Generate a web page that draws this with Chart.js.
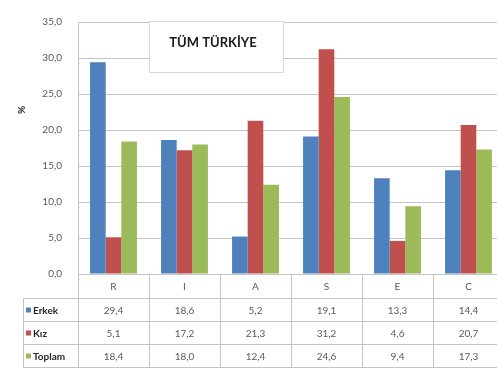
<!DOCTYPE html>
<html>
<head>
<meta charset="utf-8">
<script src="https://cdn.jsdelivr.net/npm/chart.js@4/dist/chart.umd.min.js"></script>
<style>
  html, body { margin: 0; padding: 0; background: #fff; overflow: hidden; }
  #wrap { width: 505px; height: 369px; }
</style>
</head>
<body>
<div id="wrap"><canvas id="c" width="505" height="369"></canvas></div>
<script>
// Categories and series (percentages)
const categories = ['R', 'I', 'A', 'S', 'E', 'C'];
const seriesNames = ['Erkek', 'Kız', 'Toplam'];
const erkek  = [29.4, 18.6, 5.2, 19.1, 13.3, 14.4];
const kiz    = [5.1, 17.2, 21.3, 31.2, 4.6, 20.7];
const toplam = [18.4, 18.0, 12.4, 24.6, 9.4, 17.3];
const yTicks = [0, 5, 10, 15, 20, 25, 30, 35];
const chartTitle = 'TÜM TÜRKİYE';
const yLabel = '%';

const colors = ['#4F81BD', '#C0504D', '#9BBB59'];
const seriesValues = [erkek, kiz, toplam];
const gridColor = '#c4c4c4';
const fmt = v => v.toFixed(1).replace('.', ',');

// Excel-style data table drawn under the plot area
const dataTable = {
  id: 'dataTable',
  afterDraw(chart) {
    const ctx = chart.ctx;
    const area = chart.chartArea;
    const x = chart.scales.x;
    const n = categories.length;
    const colW = (area.right - area.left) / n;
    const rowTops = [area.bottom, 298, 321, 344, 367];
    ctx.save();
    ctx.strokeStyle = gridColor;
    ctx.lineWidth = 1;
    // horizontal rules
    ctx.beginPath();
    for (let r = 1; r < rowTops.length; r++) {
      const y = rowTops[r] + 0.5;
      ctx.moveTo(r === 0 ? area.left : 23, y);
      ctx.lineTo(area.right, y);
    }
    // vertical rules
    for (let i = 0; i <= n; i++) {
      const xx = Math.round(area.left + i * colW) + 0.5;
      ctx.moveTo(xx, area.bottom);
      ctx.lineTo(xx, rowTops[4]);
    }
    ctx.moveTo(23.5, rowTops[1]);
    ctx.lineTo(23.5, rowTops[4]);
    ctx.stroke();

    // category labels
    ctx.textAlign = 'center';
    ctx.textBaseline = 'middle';
    ctx.fillStyle = '#595959';
    ctx.font = '10px Lato';
    categories.forEach((c, i) => {
      ctx.fillText(c, x.getPixelForValue(i), (rowTops[0] + rowTops[1]) / 2 + 1);
    });
    // series rows
    seriesValues.forEach((vals, s) => {
      const cy = (rowTops[s + 1] + rowTops[s + 2]) / 2 + 1;
      ctx.textAlign = 'center';
      ctx.fillStyle = '#595959';
      ctx.font = '10px Lato';
      vals.forEach((v, i) => ctx.fillText(fmt(v), x.getPixelForValue(i), cy));
      ctx.fillStyle = colors[s];
      ctx.fillRect(26, cy - 3, 5, 5);
      ctx.textAlign = 'left';
      ctx.fillStyle = '#262626';
      ctx.font = 'bold 10px Lato';
      ctx.fillText(seriesNames[s], 33, cy);
    });

    // rotated axis label
    ctx.save();
    ctx.translate(22, 110);
    ctx.rotate(-Math.PI / 2);
    ctx.textAlign = 'center';
    ctx.fillStyle = '#262626';
    ctx.font = 'bold 10px Lato';
    ctx.fillText(yLabel, 0, 0);
    ctx.restore();

    // title box
    ctx.fillStyle = '#ffffff';
    ctx.strokeStyle = '#d9d9d9';
    ctx.fillRect(149, 21, 134, 51);
    ctx.strokeRect(149.5, 21.5, 134, 51);
    ctx.fillStyle = '#1a1a1a';
    ctx.font = 'bold 13px Lato';
    ctx.textAlign = 'center';
    ctx.fillText(chartTitle, 213, 43);
    ctx.restore();
  }
};

new Chart(document.getElementById('c'), {
  type: 'bar',
  data: {
    labels: categories,
    datasets: seriesNames.map((name, s) => ({
      label: name,
      data: seriesValues[s],
      backgroundColor: colors[s],
      borderWidth: 0,
      categoryPercentage: 0.66,
      barPercentage: 1.0
    }))
  },
  options: {
    responsive: false,
    animation: false,
    layout: { padding: { top: 14, bottom: 95, left: 0, right: 1 } },
    plugins: { legend: { display: false }, tooltip: { enabled: false }, title: { display: false } },
    scales: {
      x: { display: false },
      y: {
        min: 0, max: 35,
        afterFit: s => { s.width = 78; },
        afterBuildTicks: s => { s.ticks = yTicks.map(v => ({ value: v })); },
        ticks: {
          padding: 16,
          color: '#595959',
          font: { family: 'Lato', size: 10 },
          callback: v => fmt(v)
        },
        grid: { color: gridColor, lineWidth: 1, drawTicks: false },
        border: { color: gridColor }
      }
    }
  },
  plugins: [dataTable]
});
</script>
</body>
</html>
